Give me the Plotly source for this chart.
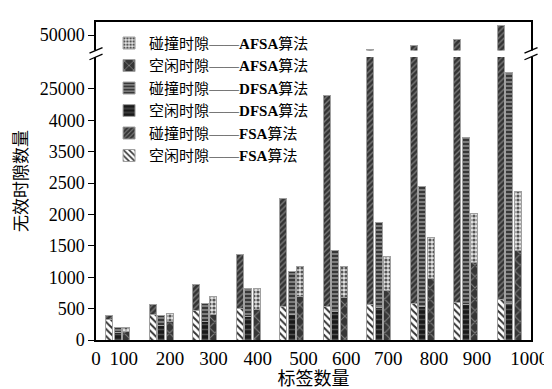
import plotly.graph_objects as go

# ---- data (values in the chart's plotted axis units) ----
tag_counts = [100, 200, 300, 400, 500, 600, 700, 800, 900, 1000]
group_pos = [50, 150, 250, 350, 450, 550, 650, 750, 850, 950]

fsa_idle = [333, 410, 474, 501, 537, 537, 563, 589, 598, 640]
fsa_total = [385, 573, 877, 1365, 2261, 3896, 4627, 4689, 4791, 5011]
dfsa_idle = [115, 230, 290, 370, 410, 460, 512, 530, 563, 578]
dfsa_total = [195, 383, 589, 819, 1089, 1432, 1877, 2445, 3232, 4255]
afsa_idle = [135, 290, 405, 486, 690, 681, 782, 972, 1227, 1432]
afsa_total = [205, 420, 686, 819, 1166, 1166, 1330, 1630, 2020, 2368]

fsa_coll = [t - i for t, i in zip(fsa_total, fsa_idle)]
dfsa_coll = [t - i for t, i in zip(dfsa_total, dfsa_idle)]
afsa_coll = [t - i for t, i in zip(afsa_total, afsa_idle)]

y_tick_vals = [0, 500, 1000, 1500, 2000, 2500, 3000, 3500, 4000, 4857]
y_tick_text = ["0", "500", "1000", "1500", "2000", "2500", "3500", "4000", "25000", "50000"]
x_tick_text = ["0", "100", "200", "300", "400", "500", "600", "700", "800", "900", "1000"]
x_tick_pos = [0, 64, 170, 270, 372, 477, 575, 672, 777, 876, 996]

Y_MAX = 5064
BREAK_LO, BREAK_HI = 4508, 4612

FONT = "Liberation Serif, Noto Sans CJK SC, serif"
W = 16
OFF = 20

def xs(d):
    return [g + d for g in group_pos]

fig = go.Figure()

def add(name, x, y, bg, fg, shape, size, sol):
    fig.add_trace(go.Bar(
        name=name, x=x, y=y, width=W,
        marker=dict(color=bg,
                    line=dict(color="#a0a0a0", width=1),
                    pattern=dict(shape=shape, bgcolor=bg, fgcolor=fg,
                                 size=size, solidity=sol, fillmode="replace")),
    ))

add("空闲时隙——<b>FSA</b>算法", xs(-OFF), fsa_idle, "#ffffff", "#333333", "\\", 5, 0.4)
add("碰撞时隙——<b>FSA</b>算法", xs(-OFF), fsa_coll, "#343434", "#7a7a7a", "/", 4, 0.35)
add("空闲时隙——<b>DFSA</b>算法", xs(0), dfsa_idle, "#1a1a1a", "#505050", "-", 5, 0.3)
add("碰撞时隙——<b>DFSA</b>算法", xs(0), dfsa_coll, "#7c7c7c", "#303030", "-", 4, 0.45)
add("空闲时隙——<b>AFSA</b>算法", xs(OFF), afsa_idle, "#363636", "#808080", "x", 8, 0.25)
add("碰撞时隙——<b>AFSA</b>算法", xs(OFF), afsa_coll, "#e2e2e2", "#555555", ".", 4, 0.5)

shapes = [
    dict(type="rect", xref="paper", yref="paper", x0=-0.02, x1=1.03,
         y0=BREAK_LO / Y_MAX, y1=BREAK_HI / Y_MAX,
         fillcolor="white", line=dict(width=0), layer="above"),
]
for xp in (0.0, 1.0):
    for yv in (BREAK_LO, BREAK_HI):
        shapes.append(dict(type="line", xref="paper", yref="paper",
                           x0=xp - 0.015, x1=xp + 0.015,
                           y0=(yv - 45) / Y_MAX, y1=(yv + 45) / Y_MAX,
                           line=dict(color="black", width=1.3), layer="above"))

fig.update_layout(
    width=552, height=389,
    margin=dict(l=87, r=26, t=12, b=47),
    paper_bgcolor="white", plot_bgcolor="white",
    barmode="stack",
    font=dict(family=FONT, color="black", size=16),
    showlegend=True,
    legend=dict(x=0.03, y=0.985, xanchor="left", yanchor="top",
                traceorder="reversed", bgcolor="rgba(0,0,0,0)",
                font=dict(family=FONT, size=15, color="black"),
                tracegroupgap=0, itemwidth=30),
    shapes=shapes,
    xaxis=dict(range=[0, 1000], tickmode="array", tickvals=x_tick_pos,
               ticktext=x_tick_text, ticks="", showgrid=False, zeroline=False,
               showline=True, linecolor="black", linewidth=1.5, mirror=True,
               tickfont=dict(family=FONT, size=19),
               title=dict(text="标签数量", font=dict(family=FONT, size=18), standoff=4)),
    yaxis=dict(range=[0, Y_MAX], tickmode="array", tickvals=y_tick_vals,
               ticktext=y_tick_text, ticks="outside", ticklen=6, tickcolor="black",
               showgrid=False, zeroline=False,
               showline=True, linecolor="black", linewidth=1.5, mirror=True,
               tickfont=dict(family=FONT, size=18),
               title=dict(text="无效时隙数量", font=dict(family=FONT, size=17), standoff=8)),
)

fig.write_html("out.html")
